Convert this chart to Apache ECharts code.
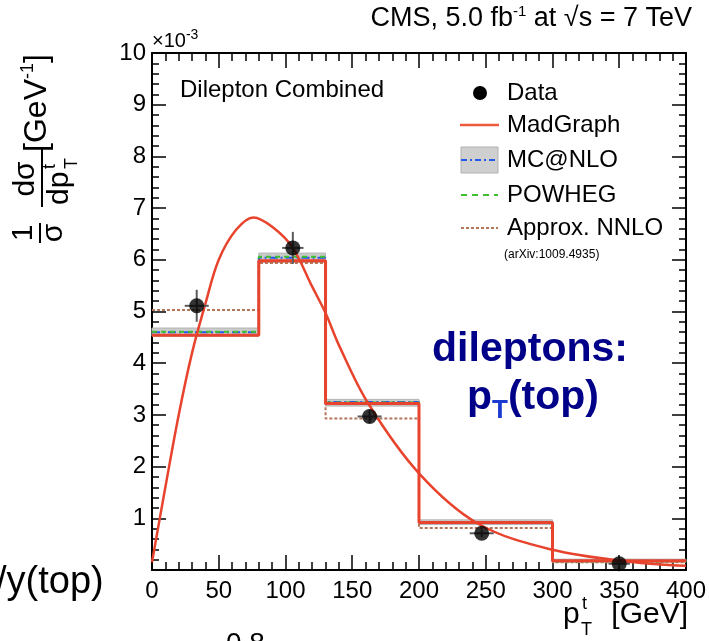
<!DOCTYPE html>
<html><head><meta charset="utf-8">
<script src="https://cdn.jsdelivr.net/npm/echarts@6/dist/echarts.min.js"></script>
<style>html,body{margin:0;padding:0;background:#fff}#c{width:709px;height:641px}</style>
</head><body><div id="c"></div><script>
// ---- data ----
const binEdges = [0, 80, 130, 200, 300, 400];
const madgraphHist = [4.54, 5.98, 3.22, 0.92, 0.18];
const mcatnloHist = [4.60, 6.04, 3.25, 0.93, 0.18];
const mcatnloLow = [4.52, 5.95, 3.17, 0.88, 0.15];
const mcatnloHigh = [4.68, 6.13, 3.30, 0.97, 0.21];
const powhegHist = [4.61, 6.06, 3.24, 0.92, 0.17];
const approxNNLOHist = [5.03, 5.94, 2.93, 0.81, 0.15];
const dataX = [33.5, 105.5, 163, 247, 350];
const dataY = [5.11, 6.23, 2.97, 0.71, 0.12];
const dataXErr = [9, 8, 9, 9, 8];
const dataYErr = [0.31, 0.31, 0.13, 0.07, 0.08];
const curveX = [0, 10, 20, 30, 40, 50, 63, 76, 90, 105, 120, 130, 140, 162, 200, 244, 300, 358, 400];
const curveY = [0.15, 1.6, 3.0, 4.2, 5.15, 6.0, 6.58, 6.82, 6.64, 6.25, 5.48, 4.97, 4.35, 3.22, 1.87, 0.90, 0.39, 0.16, 0.08];

const FONT = '"Liberation Sans", Arial, Helvetica, sans-serif';
const RED = '#e8432d';

function stepData(vals) {
  return binEdges.map((e, i) => [e, vals[Math.min(i, vals.length - 1)]]);
}
const bandData = mcatnloLow.map((lo, i) => [binEdges[i], binEdges[i + 1], lo, mcatnloHigh[i]]);
const errData = dataX.map((x, i) => [x, dataY[i], dataXErr[i], dataYErr[i]]);
const curveData = curveX.map((x, i) => [x, curveY[i]]);
const pointData = dataX.map((x, i) => [x, dataY[i]]);

const chart = echarts.init(document.getElementById('c'), null, {renderer: 'canvas'});

function xAx(pos, showLabel) {
  return {
    type: 'value', position: pos, min: 0, max: 400, interval: 50,
    axisLine: {onZero: false, lineStyle: {color: '#000', width: 2}},
    splitLine: {show: false},
    axisTick: {inside: true, length: 15, lineStyle: {color: '#000', width: 1.5}},
    minorTick: {show: true, splitNumber: 5, length: 8, lineStyle: {color: '#000', width: 1.5}},
    axisLabel: {show: showLabel, fontSize: 24, color: '#000', fontFamily: FONT, margin: 9}
  };
}
function yAx(pos, showLabel) {
  return {
    type: 'value', position: pos, min: 0, max: 10, interval: 1,
    axisLine: {onZero: false, lineStyle: {color: '#000', width: 2}},
    splitLine: {show: false},
    axisTick: {inside: true, length: 14, lineStyle: {color: '#000', width: 1.5}},
    minorTick: {show: true, splitNumber: 5, length: 7, lineStyle: {color: '#000', width: 1.5}},
    axisLabel: {show: showLabel, fontSize: 24, color: '#000', fontFamily: FONT, margin: 6,
      formatter: v => (v === 0 ? '' : String(v))}
  };
}

const lineBase = {type: 'line', step: 'end', symbol: 'none', showSymbol: false, animation: false};

const legendY = {data: 93, mad: 125, mc: 160, pow: 195, nnlo: 228};

const option = {
  animation: false,
  grid: {left: 152, right: 20, top: 53, bottom: 71},
  xAxis: [xAx('bottom', true), xAx('top', false)],
  yAxis: [yAx('left', true), yAx('right', false)],
  series: [
    {
      type: 'custom', z: 1, data: bandData, encode: {x: [0, 1], y: [2, 3]},
      renderItem(params, api) {
        const p0 = api.coord([api.value(0), api.value(3)]);
        const p1 = api.coord([api.value(1), api.value(2)]);
        return {type: 'rect', shape: {x: p0[0], y: p0[1], width: p1[0] - p0[0], height: p1[1] - p0[1]},
          style: {fill: '#cbcbcb', stroke: '#b5b5b5', lineWidth: 1}};
      }
    },
    Object.assign({}, lineBase, {z: 2, data: stepData(approxNNLOHist), lineStyle: {color: '#b4765a', width: 2, type: [3, 2]}}),
    Object.assign({}, lineBase, {z: 3, data: stepData(mcatnloHist), lineStyle: {color: '#2458e6', width: 2, type: [8, 3, 2, 3]}}),
    Object.assign({}, lineBase, {z: 3, data: stepData(powhegHist), lineStyle: {color: '#3fbf2f', width: 2, type: [5, 4]}}),
    Object.assign({}, lineBase, {z: 4, data: stepData(madgraphHist), lineStyle: {color: RED, width: 3}}),
    {type: 'line', z: 5, data: curveData, smooth: 0.35, symbol: 'none', showSymbol: false, lineStyle: {color: RED, width: 2.5}},
    {
      type: 'custom', z: 6, data: errData, encode: {x: 0, y: 1},
      renderItem(params, api) {
        const x = api.value(0), y = api.value(1), ex = api.value(2), ey = api.value(3);
        const a = api.coord([x - ex, y]), b = api.coord([x + ex, y]);
        const c = api.coord([x, y - ey]), d = api.coord([x, y + ey]);
        const st = {stroke: '#5a5a5a', lineWidth: 2};
        return {type: 'group', children: [
          {type: 'line', shape: {x1: a[0], y1: a[1], x2: b[0], y2: b[1]}, style: st},
          {type: 'line', shape: {x1: c[0], y1: c[1], x2: d[0], y2: d[1]}, style: st}
        ]};
      }
    },
    {type: 'scatter', z: 7, data: pointData, symbol: 'circle', symbolSize: 15, itemStyle: {color: '#000'}}
  ],
  graphic: [
    // title
    {type: 'text', x: 692, y: 19, style: {text: '{a|CMS, 5.0 fb}{s|-1}{a| at √s = 7 TeV}', align: 'right', verticalAlign: 'middle',
      rich: {a: {fontSize: 27, fontFamily: FONT, fill: '#000', lineHeight: 30, verticalAlign: 'middle'},
             s: {fontSize: 15, fontFamily: FONT, fill: '#000', lineHeight: 15, verticalAlign: 'top'}}}},
    // x10^-3
    {type: 'text', x: 152, y: 41, style: {text: '{a|×10}{s|-3}', align: 'left', verticalAlign: 'middle',
      rich: {a: {fontSize: 20, fontFamily: FONT, fill: '#000', lineHeight: 26, verticalAlign: 'middle'},
             s: {fontSize: 14, fontFamily: FONT, fill: '#000', lineHeight: 14, verticalAlign: 'top'}}}},
    // Dilepton Combined
    {type: 'text', x: 180, y: 90, style: {text: 'Dilepton Combined', fontSize: 24, fontFamily: FONT, fill: '#000', align: 'left', verticalAlign: 'middle'}},
    // legend
    {type: 'circle', shape: {cx: 480, cy: legendY.data, r: 7}, style: {fill: '#000'}},
    {type: 'line', shape: {x1: 460, y1: legendY.mad, x2: 499, y2: legendY.mad}, style: {stroke: '#f05a3c', lineWidth: 2.5}},
    {type: 'rect', shape: {x: 461, y: 147, width: 37, height: 26}, style: {fill: '#cfcfcf', stroke: '#b0b0b0', lineWidth: 1}},
    {type: 'line', shape: {x1: 461, y1: legendY.mc, x2: 498, y2: legendY.mc}, style: {stroke: '#2458e6', lineWidth: 2, lineDash: [6, 3, 2, 3]}},
    {type: 'line', shape: {x1: 461, y1: legendY.pow, x2: 498, y2: legendY.pow}, style: {stroke: '#3fbf2f', lineWidth: 2, lineDash: [6, 5]}},
    {type: 'line', shape: {x1: 461, y1: legendY.nnlo, x2: 498, y2: legendY.nnlo}, style: {stroke: '#b4765a', lineWidth: 2, lineDash: [3, 2]}},
    {type: 'text', x: 507, y: legendY.data, style: {text: 'Data', fontSize: 24, fontFamily: FONT, fill: '#000', verticalAlign: 'middle'}},
    {type: 'text', x: 507, y: legendY.mad, style: {text: 'MadGraph', fontSize: 24, fontFamily: FONT, fill: '#000', verticalAlign: 'middle'}},
    {type: 'text', x: 507, y: legendY.mc, style: {text: 'MC@NLO', fontSize: 24, fontFamily: FONT, fill: '#000', verticalAlign: 'middle'}},
    {type: 'text', x: 507, y: legendY.pow, style: {text: 'POWHEG', fontSize: 24, fontFamily: FONT, fill: '#000', verticalAlign: 'middle'}},
    {type: 'text', x: 507, y: legendY.nnlo, style: {text: 'Approx. NNLO', fontSize: 24, fontFamily: FONT, fill: '#000', verticalAlign: 'middle'}},
    {type: 'text', x: 504, y: 255, style: {text: '(arXiv:1009.4935)', fontSize: 12, fontFamily: FONT, fill: '#000', verticalAlign: 'middle'}},
    // annotation
    {type: 'text', x: 530, y: 350, style: {text: 'dileptons:', fontSize: 41, fontWeight: 'bold', fontFamily: FONT, fill: '#000088', align: 'center', verticalAlign: 'middle'}},
    {type: 'text', x: 533, y: 398, style: {text: '{a|p}{b|T}{a|(top)}', align: 'center', verticalAlign: 'middle',
      rich: {a: {fontSize: 41, fontWeight: 'bold', fontFamily: FONT, fill: '#000088', lineHeight: 52, verticalAlign: 'middle'},
             b: {fontSize: 26, fontWeight: 'bold', fontFamily: FONT, fill: '#1a3ad0', lineHeight: 26, verticalAlign: 'bottom'}}}},
    // y axis title (rotated)
    {type: 'group', x: 0, y: 245, rotation: Math.PI / 2, children: [
      {type: 'text', x: 12, y: 24, style: {text: '1', fontSize: 30, fontFamily: FONT, fill: '#000', align: 'center', verticalAlign: 'middle'}},
      {type: 'line', shape: {x1: 2, y1: 40, x2: 22, y2: 40}, style: {stroke: '#000', lineWidth: 2}},
      {type: 'text', x: 12, y: 54, style: {text: 'σ', fontSize: 30, fontFamily: FONT, fill: '#000', align: 'center', verticalAlign: 'middle'}},
      {type: 'text', x: 66, y: 26, style: {text: 'dσ', fontSize: 30, fontFamily: FONT, fill: '#000', align: 'center', verticalAlign: 'middle'}},
      {type: 'line', shape: {x1: 38, y1: 42, x2: 98, y2: 42}, style: {stroke: '#000', lineWidth: 2}},
      {type: 'text', x: 40, y: 60, style: {text: 'dp', fontSize: 30, fontFamily: FONT, fill: '#000', align: 'left', verticalAlign: 'middle'}},
      {type: 'text', x: 76, y: 50, style: {text: 't', fontSize: 18, fontFamily: FONT, fill: '#000', align: 'left', verticalAlign: 'middle'}},
      {type: 'text', x: 76, y: 72, style: {text: 'T', fontSize: 18, fontFamily: FONT, fill: '#000', align: 'left', verticalAlign: 'middle'}},
      {type: 'text', x: 142, y: 37, style: {text: '{a|[GeV}{s|-1}{a|]}', align: 'center', verticalAlign: 'middle',
        rich: {a: {fontSize: 32, fontFamily: FONT, fill: '#000', lineHeight: 36, verticalAlign: 'middle'},
               s: {fontSize: 18, fontFamily: FONT, fill: '#000', lineHeight: 18, verticalAlign: 'top'}}}}
    ]},
    // x axis title
    {type: 'text', x: 563, y: 615, style: {text: 'p', fontSize: 30, fontFamily: FONT, fill: '#000', verticalAlign: 'middle'}},
    {type: 'text', x: 582, y: 604, style: {text: 't', fontSize: 18, fontFamily: FONT, fill: '#000', verticalAlign: 'middle'}},
    {type: 'text', x: 581, y: 630, style: {text: 'T', fontSize: 18, fontFamily: FONT, fill: '#000', verticalAlign: 'middle'}},
    {type: 'text', x: 688, y: 615, style: {text: '[GeV]', fontSize: 30, fontFamily: FONT, fill: '#000', align: 'right', verticalAlign: 'middle'}},
    // cropped neighbouring texts
    {type: 'text', x: -4, y: 583, style: {text: '/y(top)', fontSize: 38, fontFamily: FONT, fill: '#000', verticalAlign: 'middle'}},
    {type: 'text', x: 226, y: 630, style: {text: '0.8', fontSize: 28, fontFamily: FONT, fill: '#000', verticalAlign: 'top'}}
  ]
};
chart.setOption(option);
</script></body></html>
